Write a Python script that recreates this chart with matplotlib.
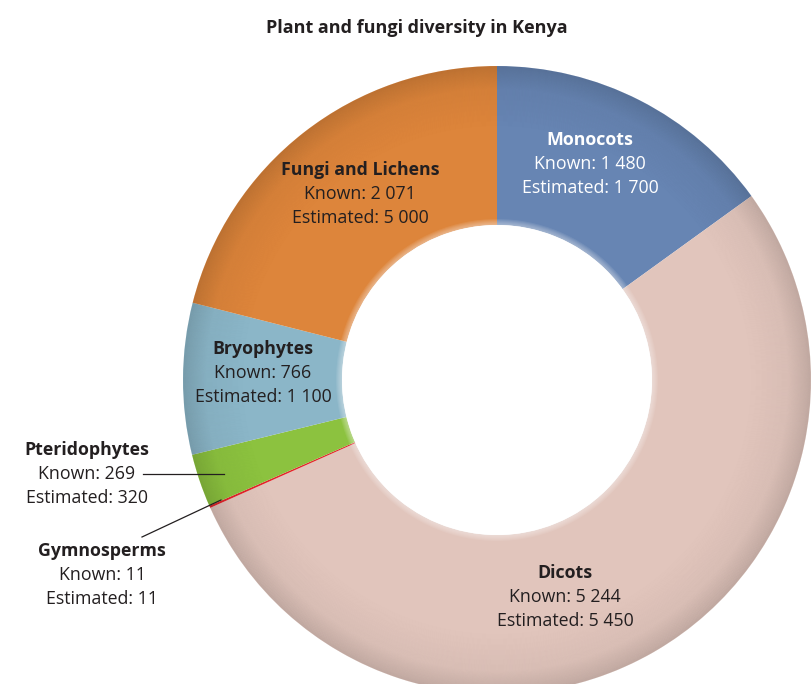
import matplotlib.pyplot as plt
from matplotlib.patches import Wedge, Circle

# data: known species counts drive the slice sizes
groups = ["Monocots", "Dicots", "Gymnosperms", "Pteridophytes", "Bryophytes", "Fungi and Lichens"]
known = [1480, 5244, 11, 269, 766, 2071]
estimated = [1700, 5450, 11, 320, 1100, 5000]
colors = ["#6785b3", "#e1c5bc", "#e4252b", "#8cc23f", "#8bb6c8", "#dd853b"]

title = "Plant and fungi diversity in Kenya"


def fmt(n):
    # thin-grouped thousands like the original ("1 480")
    return f"{n:,}".replace(",", " ")


W, H = 811, 684
fig = plt.figure(figsize=(W / 100, H / 100), dpi=100)
ax = fig.add_axes([0, 0, 1, 1])

cx, cy = 497, H - 380
r_out, r_in = 314, 155

wedges, _ = ax.pie(
    known,
    colors=colors,
    startangle=90,
    counterclock=False,
    radius=r_out,
    center=(cx, cy),
    wedgeprops=dict(width=r_out - r_in, linewidth=0),
)

# soft tube-like shading: darken toward the outer rim
for k in range(22):
    ax.add_patch(Wedge((cx, cy), r_out - k, 0, 360, width=1.2, color="black",
                       alpha=0.09 * (1 - k / 22) + 0.03, lw=0))
for k in range(40):
    ax.add_patch(Wedge((cx, cy), r_out - 22 - k, 0, 360, width=1.2, color="black",
                       alpha=0.03 * (1 - k / 40), lw=0))
# faint light edge around the hole
for k in range(6):
    ax.add_patch(Circle((cx, cy), r_in + 6 - k, color="white", alpha=0.08, lw=0))
ax.add_patch(Circle((cx, cy), r_in, color="white", lw=0))

ax.set_xlim(0, W)
ax.set_ylim(0, H)
ax.set_aspect("auto")
ax.axis("off")

font = "Open Sans"
dark = "#231f20"
fs = 12.8
step = 24


def label(x, y, i, color=dark):
    ax.text(x, H - y, groups[i], ha="center", va="center", fontsize=fs,
            fontweight="bold", color=color, family=font)
    ax.text(x, H - y - step, f"Known: {fmt(known[i])}", ha="center", va="center",
            fontsize=fs, color=color, family=font)
    ax.text(x, H - y - 2 * step, f"Estimated: {fmt(estimated[i])}", ha="center",
            va="center", fontsize=fs, color=color, family=font)


label(590, 140, 0, color="white")
label(565, 573, 1)
label(102, 551, 2)
label(87, 450, 3)
label(263, 349, 4)
label(360, 170, 5)

# leader lines for the thin slices
ax.plot([143, 224], [H - 474, H - 474], color=dark, lw=0.9)
ax.plot([142, 221], [H - 537, H - 500], color=dark, lw=0.9)

ax.text(417, H - 28, title, ha="center", va="center", fontsize=13,
        fontweight="bold", color=dark, family=font)

fig.savefig("out.png", dpi=100)
